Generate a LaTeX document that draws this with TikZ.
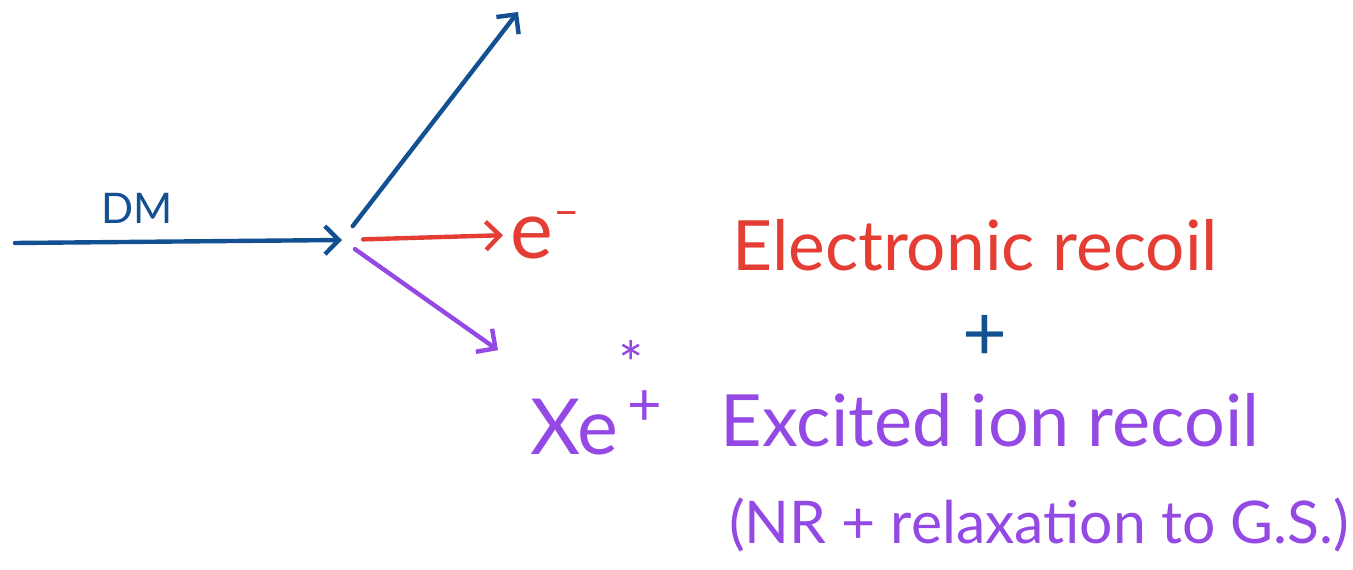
\documentclass[tikz,border=0pt]{standalone}
\usepackage{fontspec}
\setmainfont{Lato}
\usetikzlibrary{arrows.meta,positioning}
\definecolor{dmblue}{RGB}{18,80,145}
\definecolor{erred}{RGB}{228,62,52}
\definecolor{ionpurple}{RGB}{148,72,228}

\begin{document}
\begin{tikzpicture}[x=0.02cm, y=-0.02cm,
      >={Straight Barb[length=8pt,width=16pt]},
      arr/.style={->, line width=2.5pt, line cap=round},
      lbl/.style={inner sep=0pt, font=\fontsize{40}{44}\selectfont}
    ]
    \useasboundingbox (0,0) rectangle (1353,570);

    \coordinate (in)  at (15,243);
    \coordinate (vtx) at (342,240);
    \coordinate (top) at (518,12);

    \node[inner sep=0pt, text=dmblue, font=\fontsize{24}{28}\selectfont] (dm) at (137,208) {DM};
    \node[lbl, text=erred, anchor=west, font=\fontsize{46}{50}\selectfont] (el) at (510,235)
          {e\raisebox{0.4em}{\fontsize{26}{26}\selectfont –}};
    \node[lbl, font=\fontsize{44}{48}\selectfont, text=ionpurple, anchor=base west] (xe) at (530,455)
          {Xe\raisebox{0.38em}{\fontsize{34}{20}\selectfont\shortstack[l]{*\\\kern0.15em+}}};

    \draw[arr, dmblue] (in) -- (vtx);
    \draw[arr, dmblue, shorten <=10pt] (vtx) -- (top);
    \draw[arr, erred, shorten <=12pt, shorten >=4pt] (vtx) -- (el.west);
    \draw[arr, ionpurple, shorten <=9pt] (vtx) -- ([xshift=-0.64cm, yshift=-0.2cm]xe.north west);

    \node[lbl, text=erred, font=\fontsize{39.5}{44}\selectfont] (er) at (975,245) {Electronic recoil};
    \node[text=dmblue, font=\fontsize{44}{48}\selectfont, inner sep=0pt] (plus) at (985,338) {+};
    \node[lbl, text=ionpurple, font=\fontsize{41}{46}\selectfont] (ion) at (990,420) {Excited ion recoil};
    \node[lbl, text=ionpurple, font=\fontsize{33.5}{38}\selectfont] (nr) at (1039,525)
          {(NR + relaxation to G.S.)};
  \end{tikzpicture}
\end{document}
